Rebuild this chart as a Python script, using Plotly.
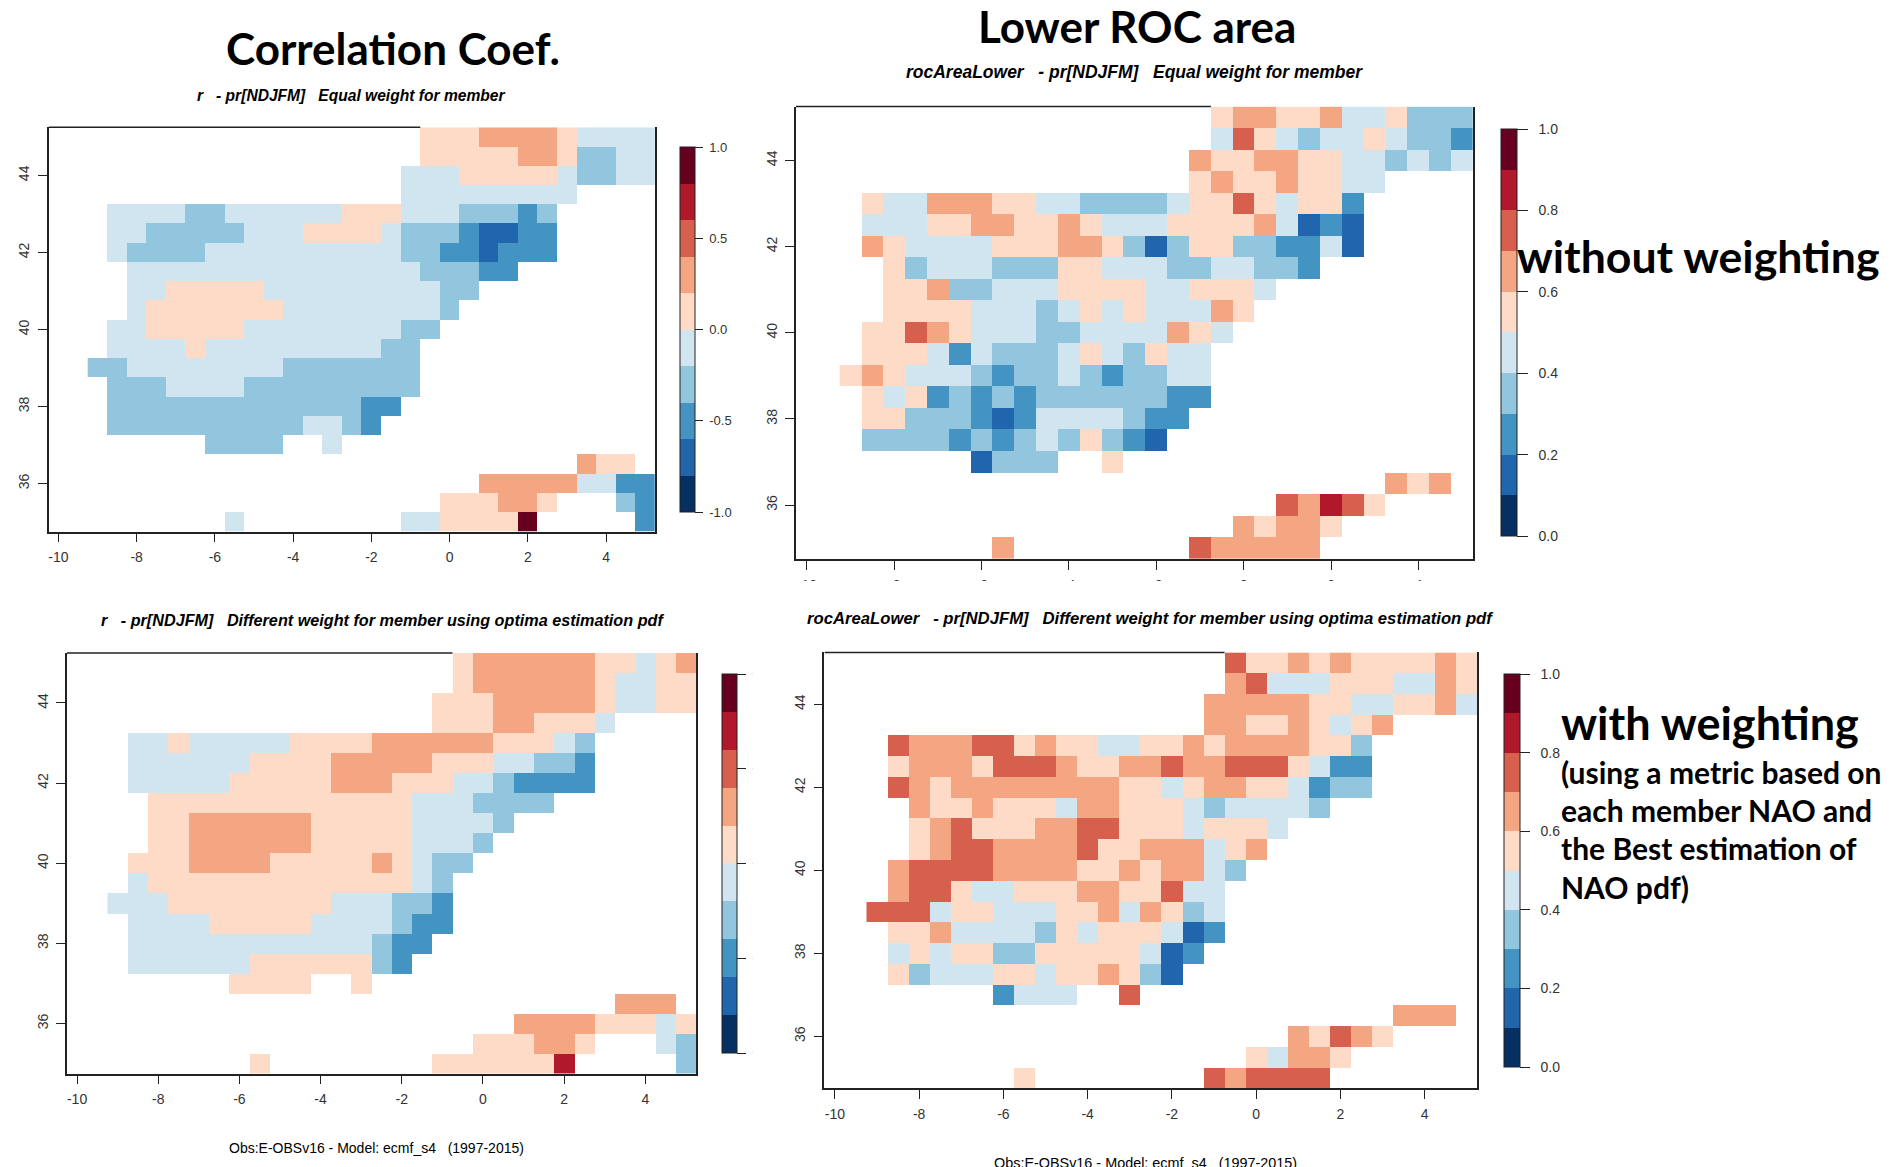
import plotly.graph_objects as go

# Grid: rows run from lat 45 (top) to lat 35, columns from lon -9 to 5 in 0.5 degree steps.
lons = [-9 + 0.5 * i for i in range(29)]
lats = [45 - 0.5 * i for i in range(21)]

# Each digit is the colour class (0 = lowest, 9 = highest), '.' is no data.
r_equal = [
    "."*17 + "555 6666 5 4444",
    "."*17 + "55555 66 5 33 44",
    "."*16 + "444 55555 4 33 44",
    "."*16 + "444444444 ....",
    ". 4444 33 444444 555 444 333 2 3 .....",
    ". 44 33333 444 5555 4 333 2 11 22 .....",
    ". 4 3333 4444444444 33 22 1 222 .....",
    ".. 444444444444444 333 22 .......",
    ".. 44 55555 444444444 33 .........",
    ".. 4 5555555 44444444 3 ..........",
    ". 44 55555 44444444 33 ...........",
    ". 4444 5 444444444 33 ............",
    "33 44444444 3333333 ............",
    ". 333 4444 333333333 ............",
    ". 3333333333333 22 .............",
    ". 3333333333 44 3 2 ..............",
    "...... 3333 .. 4 ................",
    "."*25 + "6 55 .",
    "."*20 + "66666 44 22",
    "."*18 + "555 66 5 ... 3 2",
    "."*7 + "4 ........ 44 5555 9 ..... 2",
]
roc_equal = [
    "."*17 + "5 66 55 6 44 5 333",
    "."*17 + "4 7 5 4 3 44 5 4 33 2",
    "."*16 + "6 55 66 55 44 3 4 3 4",
    "."*16 + "5 6 55 6 55 44 ....",
    ". 5 44 666 55 44 3333 4 55 7 5 4 55 2 .....",
    ". 444 55 66 55 6 5 444 5555 6 4 1 2 1 .....",
    ". 6 5 4444 555 66 5 3 1 3 55 33 22 4 1 .....",
    ".. 5 3 444 333 55 444 33 44 33 2 .......",
    ".. 55 6 33 444 5555 44 555 4 .........",
    ".. 5555 444 3 4 5 4 5 444 6 5 ..........",
    ". 55 7 6 5 444 33 4444 6 5 4 ...........",
    ". 555 4 2 4 333 4 5 4 3 5 44 ............",
    "5 6 5 444 3 2 33 4 3 2 33 44 ............",
    ". 5 4 5 2 3 2 3 2 333333 22 ............",
    ". 55 333 2 1 2 4444 3 22 .............",
    ". 3333 2 3 2 3 4 3 5 3 2 1 ..............",
    "...... 1 333 .. 5 ................",
    "."*25 + "6 5 6 .",
    "."*20 + "7 6 8 7 5 ....",
    "."*18 + "6 5 66 5 ......",
    "."*7 + "6 ........ 7 66666 .......",
]
r_weighted = [
    "."*17 + "5 666666 55 4 5 6",
    "."*17 + "5 666666 5 44 55",
    "."*16 + "555 66666 5 44 55",
    "."*16 + "555 66 555 4 ....",
    ". 44 5 44444 5555 666666 555 4 3 .....",
    ". 444444 5555 66666 555 44 33 2 .....",
    ". 44444 55555 666 555 44 3 2222 .....",
    ".. 5555555555555 444 3333 .......",
    ".. 55 666666 55555 4444 3 .........",
    ".. 55 666666 55555 444 3 ..........",
    ". 555 6666 55555 6 5 4 33 ...........",
    ". 4 5555555555555 4 3 ............",
    "444 55555555 444 33 2 ............",
    ". 4444 55555 4444 3 22 ............",
    ". 444444444444 3 22 .............",
    ". 444444 555555 3 2 ..............",
    "...... 5555 .. 5 ................",
    "."*25 + "666 .",
    "."*20 + "6666 555 4 5",
    "."*18 + "555 66 5 ... 4 3",
    "."*7 + "5 ........ 555555 8 ..... 3",
]
roc_weighted = [
    "."*17 + "7 55 6 5 6 5555 6 5",
    "."*17 + "6 7 444 555 44 6 5",
    "."*16 + "66666 55 44 55 6 4",
    "."*16 + "66 55 6 5 4 5 6 ....",
    ". 7 666 77 5 6 55 44 55 6 5 6666 55 3 .....",
    ". 5 666 5 777 6 55 66 7 66 777 5 4 22 .....",
    ". 7 6 5 66666666 55 4 5 66 55 4 2 33 .....",
    ".. 6 55 6 555 4 66 555 4 3 4444 3 .......",
    ".. 5 6 7 555 66 77 555 4 555 4 .........",
    ".. 5 6 77 6666 7 55 666 4 5 6 ..........",
    ". 6 7777 6666 55 6 5 66 4 3 ...........",
    ". 6 77 5 44 555 66 55 7 44 ............",
    "777 4 55 444 55 6 4 6 5 3 4 ............",
    ". 55 6 4444 3 5 4 555 4 1 2 ............",
    ". 4 5 4 55 33 55555 4 1 2 .............",
    ". 5 3 444 55 4 55 6 5 3 1 ..............",
    "...... 2 444 .. 7 ................",
    "."*25 + "666 .",
    "."*20 + "6 5 7 6 5 ....",
    "."*18 + "5 4 66 5 ......",
    "."*7 + "5 ........ 7 6 7777 .......",
]

rdbu_colors = ["#053061", "#2166ac", "#4393c3", "#92c5de", "#d1e5f0",
               "#fddbc7", "#f4a582", "#d6604d", "#b2182b", "#67001f"]

NB = "\u00a0"
x_ticks = [-10, -8, -6, -4, -2, 0, 2, 4]
x_tick_text = ["-10", "-8", "-6", "-4", "-2", "0", "2", "4"]
y_ticks = [36, 38, 40, 42, 44]
y_tick_text = ["36", "38", "40", "42", "44"]
r_bar_ticks = [-1, -0.5, 0, 0.5, 1]
r_bar_text = ["-1.0", "-0.5", "0.0", "0.5", "1.0"]
roc_bar_ticks = [0, 0.2, 0.4, 0.6, 0.8, 1.0]
roc_bar_text = ["0.0", "0.2", "0.4", "0.6", "0.8", "1.0"]

W, H = 1896, 1167
px = lambda v: v / W
py = lambda v: 1 - v / H

scale = []
for i, c in enumerate(rdbu_colors):
    scale += [[i / 10, c], [(i + 1) / 10, c]]


def decode(rows, low, step):
    out = []
    for row in rows:
        row = row.replace(" ", "")
        assert len(row) == 29, row
        out.append([None if ch == "." else low + step * (int(ch) + 0.5) for ch in row])
    return out


TICK = "#222222"
LABEL = "#333333"
panels = [
    dict(z=decode(r_equal, -1, 0.2), box=(48.6, 655, 127.3, 531.7), zr=(-1, 1),
         bar=(680, 695, 147, 512), bt=r_bar_ticks, btt=[NB + t for t in r_bar_text],
         bfont=dict(size=13, color=LABEL), blen=8),
    dict(z=decode(roc_equal, 0, 0.1), box=(796, 1473, 106.6, 559), zr=(0, 1),
         bar=(1500.7, 1516.7, 129.3, 536), bt=roc_bar_ticks, btt=[NB * 2 + t for t in roc_bar_text],
         bfont=dict(size=14, color=LABEL), blen=11),
    dict(z=decode(r_weighted, -1, 0.2), box=(66.9, 696, 652.9, 1073.6), zr=(-1, 1),
         bar=(721.7, 736.7, 674, 1053), bt=r_bar_ticks, btt=[NB * 2 + "·"] * 5,
         bfont=dict(size=7, color="#f2b35c"), blen=9),
    dict(z=decode(roc_weighted, 0, 0.1), box=(824.4, 1477.3, 652.4, 1088.2), zr=(0, 1),
         bar=(1503.7, 1519.3, 674, 1067), bt=roc_bar_ticks, btt=[NB * 2 + t for t in roc_bar_text],
         bfont=dict(size=14, color=LABEL), blen=10),
]

fig = go.Figure()
layout = dict(
    width=W, height=H, autosize=False, margin=dict(l=0, r=0, t=0, b=0, pad=0),
    paper_bgcolor="white", plot_bgcolor="white", showlegend=False,
    font=dict(family="Liberation Sans", color=LABEL),
)
shapes = []
for n, p in enumerate(panels, start=1):
    L, R, T, B = p["box"]
    sfx = "" if n == 1 else str(n)
    fig.add_trace(go.Heatmap(
        x=lons, y=lats, z=p["z"], zmin=p["zr"][0], zmax=p["zr"][1], colorscale=scale,
        xaxis="x" + sfx, yaxis="y" + sfx, hoverongaps=False,
        colorbar=dict(
            x=px(p["bar"][0]), xanchor="left", xpad=0, ypad=0,
            y=py(p["bar"][3]), yanchor="bottom",
            lenmode="pixels", len=p["bar"][3] - p["bar"][2],
            thicknessmode="pixels", thickness=p["bar"][1] - p["bar"][0],
            outlinecolor="#222222", outlinewidth=1, borderwidth=0,
            tickmode="array", tickvals=p["bt"], ticktext=p["btt"],
            ticks="outside", ticklen=p["blen"], tickcolor=TICK, tickwidth=1, tickfont=p["bfont"],
        ),
    ))
    layout["xaxis" + sfx] = dict(
        domain=[px(L), px(R)], range=[-10.25, 5.25], anchor="y" + sfx,
        tickmode="array", tickvals=x_ticks, ticktext=x_tick_text, ticks="outside", ticklen=9,
        tickcolor=TICK, tickwidth=1.2, showline=True, linecolor="#222222", linewidth=1.5,
        showgrid=False, zeroline=False, tickfont=dict(size=14, color=LABEL), ticklabelstandoff=3,
    )
    layout["yaxis" + sfx] = dict(
        domain=[py(B), py(T)], range=[34.75, 45.25], anchor="x" + sfx,
        tickmode="array", tickvals=y_ticks, ticktext=y_tick_text, ticks="outside", ticklen=9,
        tickcolor=TICK, tickwidth=1.2, showline=True, mirror=True, linecolor="#222222", linewidth=1.5,
        showgrid=False, zeroline=False, tickfont=dict(size=14, color=LABEL), tickangle=-90,
        ticklabelstandoff=3,
    )
    shapes.append(dict(type="line", xref="x" + sfx, yref="y%s domain" % sfx,
                       x0=-10.25, x1=-0.75, y0=1, y1=1, line=dict(color="#222222", width=1.5)))

# The lower part of the top-right panel's x labels is cut off in the reference.
shapes.append(dict(type="rect", xref="paper", yref="paper", layer="above",
                   x0=px(770), x1=px(1490), y0=py(600), y1=py(581),
                   fillcolor="white", line=dict(width=0)))
layout["shapes"] = shapes


def label(text, cx, cy, size, family="Liberation Sans", bold=False, italic=False, color="black", align="center"):
    t = text
    if bold:
        t = "<b>%s</b>" % t
    if italic:
        t = "<i>%s</i>" % t
    return dict(text=t, x=px(cx), y=py(cy), xref="paper", yref="paper", showarrow=False,
                xanchor=align, yanchor="middle", font=dict(family=family, size=size, color=color))


annots = [
    label("Correlation Coef.", 393, 48, 44, "Lato", bold=True),
    label("Lower ROC area", 1137, 26, 44, "Lato", bold=True),
    label("without weighting", 1515, 255, 44.6, "Lato", bold=True, align="left"),
    label("with weighting", 1559, 723, 45, "Lato", bold=True, align="left"),
    label("(using a metric based on", 1559, 772, 30, "Lato", bold=True, align="left"),
    label("each member NAO and", 1559, 810, 30, "Lato", bold=True, align="left"),
    label("the Best estimation of", 1559, 848, 30, "Lato", bold=True, align="left"),
    label("NAO pdf)", 1559, 887, 30, "Lato", bold=True, align="left"),
    label(f"r{NB*3}- pr[NDJFM]{NB*3}Equal weight for member", 351, 95.5, 15.6, bold=True, italic=True),
    label(f"rocAreaLower{NB*3}- pr[NDJFM]{NB*3}Equal weight for member", 1134, 72.5, 17.5, bold=True, italic=True),
    label(f"r{NB*3}- pr[NDJFM]{NB*3}Different weight for member using optima estimation pdf", 382, 620, 16.2, bold=True, italic=True),
    label(f"rocAreaLower{NB*3}- pr[NDJFM]{NB*3}Different weight for member using optima estimation pdf", 1150, 618.5, 16.7, bold=True, italic=True),
    label(f"Obs:E-OBSv16 - Model: ecmf_s4{NB*3}(1997-2015)", 376, 1147.6, 14),
    label(f"Obs:E-OBSv16 - Model: ecmf_s4{NB*3}(1997-2015)", 1145, 1163, 14.4),
]
layout["annotations"] = annots
fig.update_layout(**layout)
fig.write_html("out.html", config={"displayModeBar": False},
               post_script="document.body.style.margin='0';document.body.style.overflow='hidden';")
